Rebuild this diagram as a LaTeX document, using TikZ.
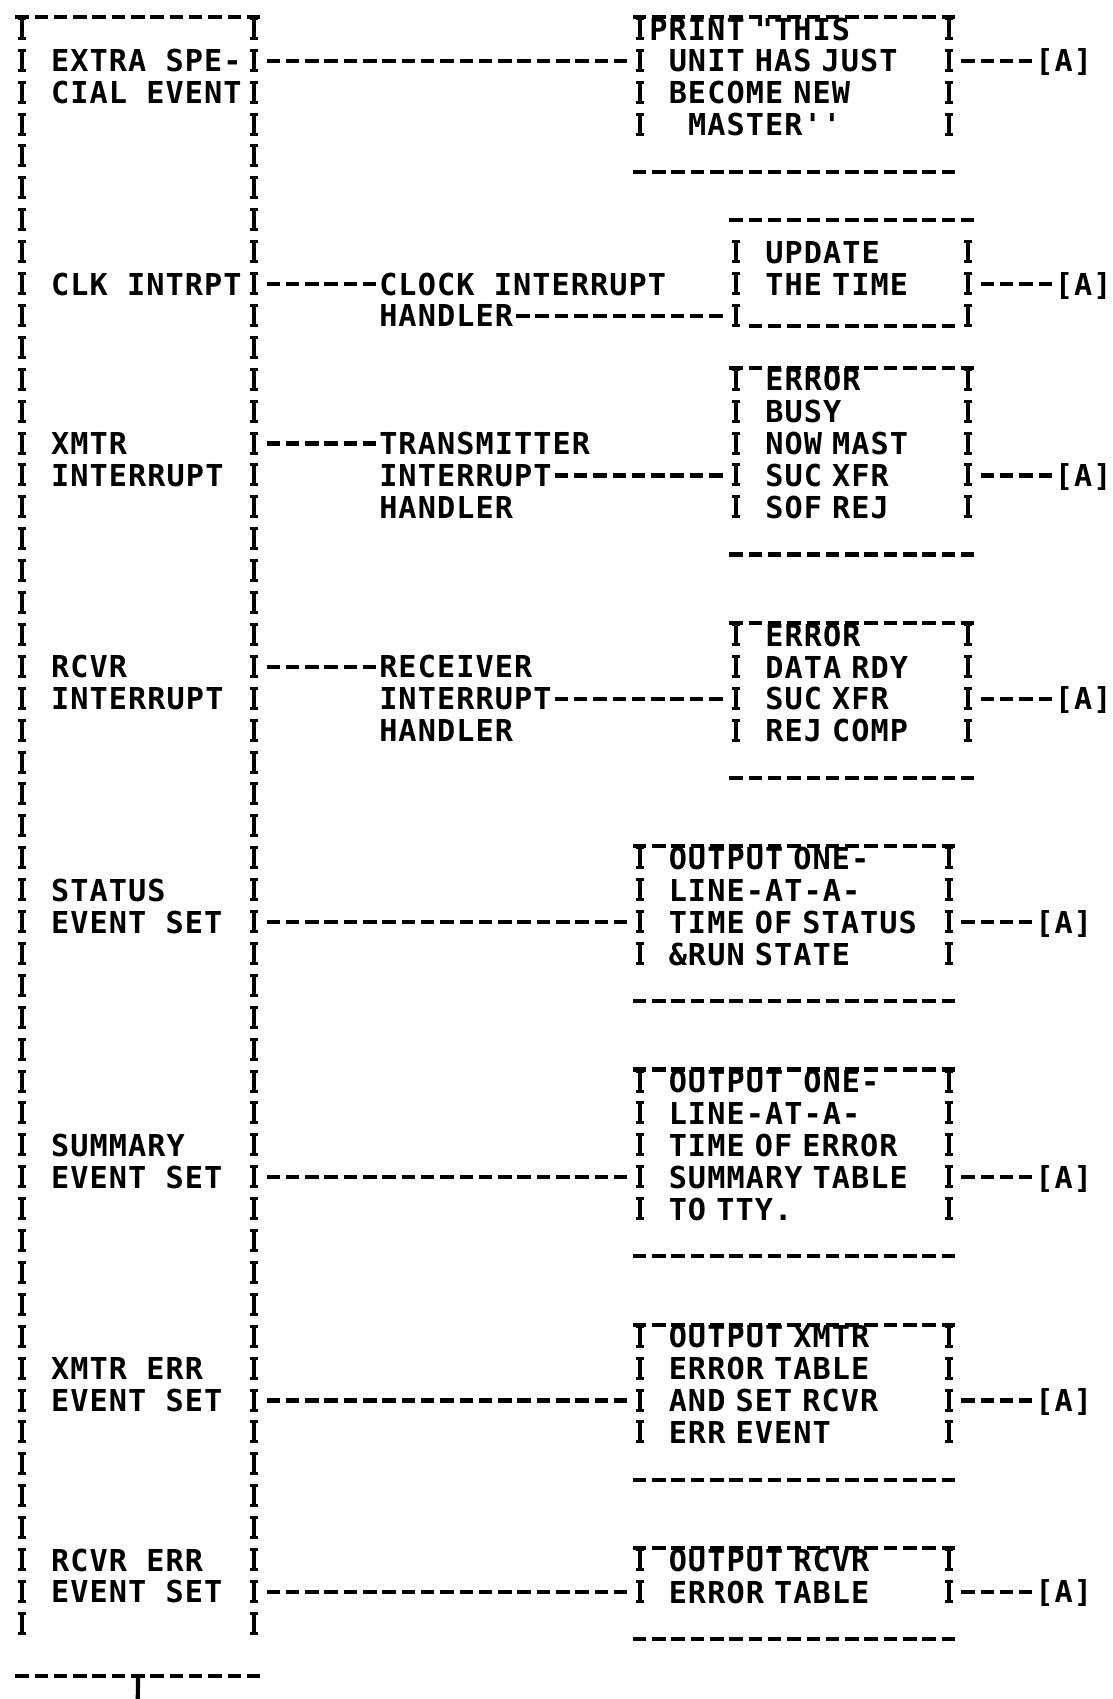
\documentclass[tikz,border=0pt]{standalone}
\usepackage{fontspec}
\newfontfamily\prtfont{DejaVu Sans Mono}[LetterSpace=3.6]
\newcommand\prt{\prtfont\bfseries\fontsize{30.2pt}{31.9pt}\selectfont}
\newcommand\rw[1]{\mbox{\rule[-4.95pt]{0pt}{31.9pt}#1}}
\setlength{\parindent}{0pt}
\tikzset{
  lbl/.style={font=\prt,inner sep=0pt,anchor=west,text height=26.95pt,text depth=4.95pt},
  act/.style={font=\prt,inner xsep=28.95pt,inner ysep=0pt,anchor=north west,align=left,text width=250.9pt},
  act-s/.style={act,text width=173.7pt},
  evbox/.style={inner sep=0pt,anchor=north west,minimum width=231.6pt,minimum height=1626.9pt},
  rule-h/.style={line width=4.2pt,dash pattern=on 13.5pt off 5.8pt},
  rule-i/.style={line width=4.2pt,dash pattern=on 23pt off 8.9pt,shorten <=3.95pt,shorten >=3.95pt,
    preaction={draw,line width=8pt,dash pattern=on 3pt off 17pt on 3pt off 8.9pt}},
  link/.style={rule-h,shorten <=12.55pt,shorten >=12.55pt},
  link-in/.style={rule-h,shorten <=12.55pt,shorten >=2.9pt},
  link-out/.style={rule-h,shorten <=2.9pt,shorten >=12.55pt},
}
\begin{document}
\begin{tikzpicture}[x=19.3pt,y=-31.9pt]
  \useasboundingbox (-1.14,-0.903) rectangle (56.528,52.357);

  % EVENT COLUMN
  \node[evbox] (ev) at (0,-0.5) {};
  \draw[rule-h] ([shift={(-6.75pt,-3.95pt)}]ev.north west) -- ([shift={(6.75pt,-3.95pt)}]ev.north east);
  \draw[rule-i] (ev.north west) -- (ev.south west);
  \draw[rule-i] (ev.north east) -- (ev.south east);
  \draw[rule-h] ([shift={(-6.75pt,-35.7pt)}]ev.south west) -- ([shift={(6.75pt,-35.7pt)}]ev.south east);
  \coordinate (evout) at (6,52.4);
  \draw[line width=4.2pt] ([yshift=-35.7pt]ev.south) -- (evout);

  \node[lbl] (e1a) at (1.5,1)  {EXTRA SPE-};
  \node[lbl] (e1b) at (1.5,2)  {CIAL EVENT};
  \node[lbl] (e2)  at (1.5,8)  {CLK INTRPT};
  \node[lbl] (e3a) at (1.5,13) {XMTR};
  \node[lbl] (e3b) at (1.5,14) {INTERRUPT};
  \node[lbl] (e4a) at (1.5,20) {RCVR};
  \node[lbl] (e4b) at (1.5,21) {INTERRUPT};
  \node[lbl] (e5a) at (1.5,27) {STATUS};
  \node[lbl] (e5b) at (1.5,28) {EVENT SET};
  \node[lbl] (e6a) at (1.5,35) {SUMMARY};
  \node[lbl] (e6b) at (1.5,36) {EVENT SET};
  \node[lbl] (e7a) at (1.5,42) {XMTR ERR};
  \node[lbl] (e7b) at (1.5,43) {EVENT SET};
  \node[lbl] (e8a) at (1.5,48) {RCVR ERR};
  \node[lbl] (e8b) at (1.5,49) {EVENT SET};

  % EVENT 1
  \node[act] (a1) at (32,-0.5) {\rw{\hspace*{-19.3pt}PRINT "THIS}\\\rw{UNIT HAS JUST}\\\rw{BECOME NEW}\\\rw{\hspace*{19.3pt}MASTER''}};
  \node[lbl] (x1) at (52.5,1) {[A]};
  \draw[rule-h] ([shift={(-6.75pt,-3.95pt)}]a1.north west) -- ([shift={(6.75pt,-3.95pt)}]a1.north east);
  \draw[rule-i] (a1.north west) -- (a1.south west);
  \draw[rule-i] (a1.north east) -- (a1.south east);
  \draw[rule-h] ([shift={(-6.75pt,-30.9pt)}]a1.south west) -- ([shift={(6.75pt,-30.9pt)}]a1.south east);
  \draw[link] (ev.east |- e1a) -- (a1.west |- e1a);
  \draw[link-in] (a1.east |- x1) -- (x1.west);

  % EVENT 2
  \node[lbl] (h2a) at (18.5,8) {CLOCK INTERRUPT};
  \node[lbl] (h2b) at (18.5,9) {HANDLER};
  \node[act-s] (a2) at (37,6.5) {\rw{UPDATE}\\\rw{THE TIME}\\\rw{}};
  \node[lbl] (x2) at (53.5,8) {[A]};
  \draw[rule-h] ([shift={(-6.75pt,15.95pt)}]a2.north west) -- ([shift={(6.75pt,15.95pt)}]a2.north east);
  \draw[rule-i] (a2.north west) -- (a2.south west);
  \draw[rule-i] (a2.north east) -- (a2.south east);
  \draw[rule-h] ([shift={(12.55pt,6.4pt)}]a2.south west) -- ([shift={(-12.55pt,6.4pt)}]a2.south east);
  \draw[link-in] (ev.east |- h2a) -- (h2a.west);
  \draw[link-out] (h2b.east) -- (a2.west |- h2b);
  \draw[link-in] (a2.east |- x2) -- (x2.west);

  % EVENT 3
  \node[lbl] (h3a) at (18.5,13) {TRANSMITTER};
  \node[lbl] (h3b) at (18.5,14) {INTERRUPT};
  \node[lbl] (h3c) at (18.5,15) {HANDLER};
  \node[act-s] (a3) at (37,10.5) {\rw{ERROR}\\\rw{BUSY}\\\rw{NOW MAST}\\\rw{SUC XFR}\\\rw{SOF REJ}};
  \node[lbl] (x3) at (53.5,14) {[A]};
  \draw[rule-h] ([shift={(-6.75pt,-3.95pt)}]a3.north west) -- ([shift={(6.75pt,-3.95pt)}]a3.north east);
  \draw[rule-i] (a3.north west) -- (a3.south west);
  \draw[rule-i] (a3.north east) -- (a3.south east);
  \draw[rule-h] ([shift={(-6.75pt,-30.9pt)}]a3.south west) -- ([shift={(6.75pt,-30.9pt)}]a3.south east);
  \draw[link-in] (ev.east |- h3a) -- (h3a.west);
  \draw[link-out] (h3b.east) -- (a3.west |- h3b);
  \draw[link-in] (a3.east |- x3) -- (x3.west);

  % EVENT 4
  \node[lbl] (h4a) at (18.5,20) {RECEIVER};
  \node[lbl] (h4b) at (18.5,21) {INTERRUPT};
  \node[lbl] (h4c) at (18.5,22) {HANDLER};
  \node[act-s] (a4) at (37,18.5) {\rw{ERROR}\\\rw{DATA RDY}\\\rw{SUC XFR}\\\rw{REJ COMP}};
  \node[lbl] (x4) at (53.5,21) {[A]};
  \draw[rule-h] ([shift={(-6.75pt,-3.95pt)}]a4.north west) -- ([shift={(6.75pt,-3.95pt)}]a4.north east);
  \draw[rule-i] (a4.north west) -- (a4.south west);
  \draw[rule-i] (a4.north east) -- (a4.south east);
  \draw[rule-h] ([shift={(-6.75pt,-30.9pt)}]a4.south west) -- ([shift={(6.75pt,-30.9pt)}]a4.south east);
  \draw[link-in] (ev.east |- h4a) -- (h4a.west);
  \draw[link-out] (h4b.east) -- (a4.west |- h4b);
  \draw[link-in] (a4.east |- x4) -- (x4.west);

  % EVENT 5
  \node[act] (a5) at (32,25.5) {\rw{OUTPUT ONE-}\\\rw{LINE-AT-A-}\\\rw{TIME OF STATUS}\\\rw{\&RUN STATE}};
  \node[lbl] (x5) at (52.5,28) {[A]};
  \draw[rule-h] ([shift={(-6.75pt,-3.95pt)}]a5.north west) -- ([shift={(6.75pt,-3.95pt)}]a5.north east);
  \draw[rule-i] (a5.north west) -- (a5.south west);
  \draw[rule-i] (a5.north east) -- (a5.south east);
  \draw[rule-h] ([shift={(-6.75pt,-30.9pt)}]a5.south west) -- ([shift={(6.75pt,-30.9pt)}]a5.south east);
  \draw[link] (ev.east |- e5b) -- (a5.west |- e5b);
  \draw[link-in] (a5.east |- x5) -- (x5.west);

  % EVENT 6
  \node[act] (a6) at (32,32.5) {\rw{OUTPUT~~ONE-}\\\rw{LINE-AT-A-}\\\rw{TIME OF ERROR}\\\rw{SUMMARY TABLE}\\\rw{TO TTY.}};
  \node[lbl] (x6) at (52.5,36) {[A]};
  \draw[rule-h] ([shift={(-6.75pt,-3.95pt)}]a6.north west) -- ([shift={(6.75pt,-3.95pt)}]a6.north east);
  \draw[rule-i] (a6.north west) -- (a6.south west);
  \draw[rule-i] (a6.north east) -- (a6.south east);
  \draw[rule-h] ([shift={(-6.75pt,-30.9pt)}]a6.south west) -- ([shift={(6.75pt,-30.9pt)}]a6.south east);
  \draw[link] (ev.east |- e6b) -- (a6.west |- e6b);
  \draw[link-in] (a6.east |- x6) -- (x6.west);

  % EVENT 7
  \node[act] (a7) at (32,40.5) {\rw{OUTPUT XMTR}\\\rw{ERROR TABLE}\\\rw{AND SET RCVR}\\\rw{ERR EVENT}};
  \node[lbl] (x7) at (52.5,43) {[A]};
  \draw[rule-h] ([shift={(-6.75pt,-3.95pt)}]a7.north west) -- ([shift={(6.75pt,-3.95pt)}]a7.north east);
  \draw[rule-i] (a7.north west) -- (a7.south west);
  \draw[rule-i] (a7.north east) -- (a7.south east);
  \draw[rule-h] ([shift={(-6.75pt,-30.9pt)}]a7.south west) -- ([shift={(6.75pt,-30.9pt)}]a7.south east);
  \draw[link] (ev.east |- e7b) -- (a7.west |- e7b);
  \draw[link-in] (a7.east |- x7) -- (x7.west);

  % EVENT 8
  \node[act] (a8) at (32,47.5) {\rw{OUTPUT RCVR}\\\rw{ERROR TABLE}};
  \node[lbl] (x8) at (52.5,49) {[A]};
  \draw[rule-h] ([shift={(-6.75pt,-3.95pt)}]a8.north west) -- ([shift={(6.75pt,-3.95pt)}]a8.north east);
  \draw[rule-i] (a8.north west) -- (a8.south west);
  \draw[rule-i] (a8.north east) -- (a8.south east);
  \draw[rule-h] ([shift={(-6.75pt,-30.9pt)}]a8.south west) -- ([shift={(6.75pt,-30.9pt)}]a8.south east);
  \draw[link] (ev.east |- e8b) -- (a8.west |- e8b);
  \draw[link-in] (a8.east |- x8) -- (x8.west);

\end{tikzpicture}
\end{document}
